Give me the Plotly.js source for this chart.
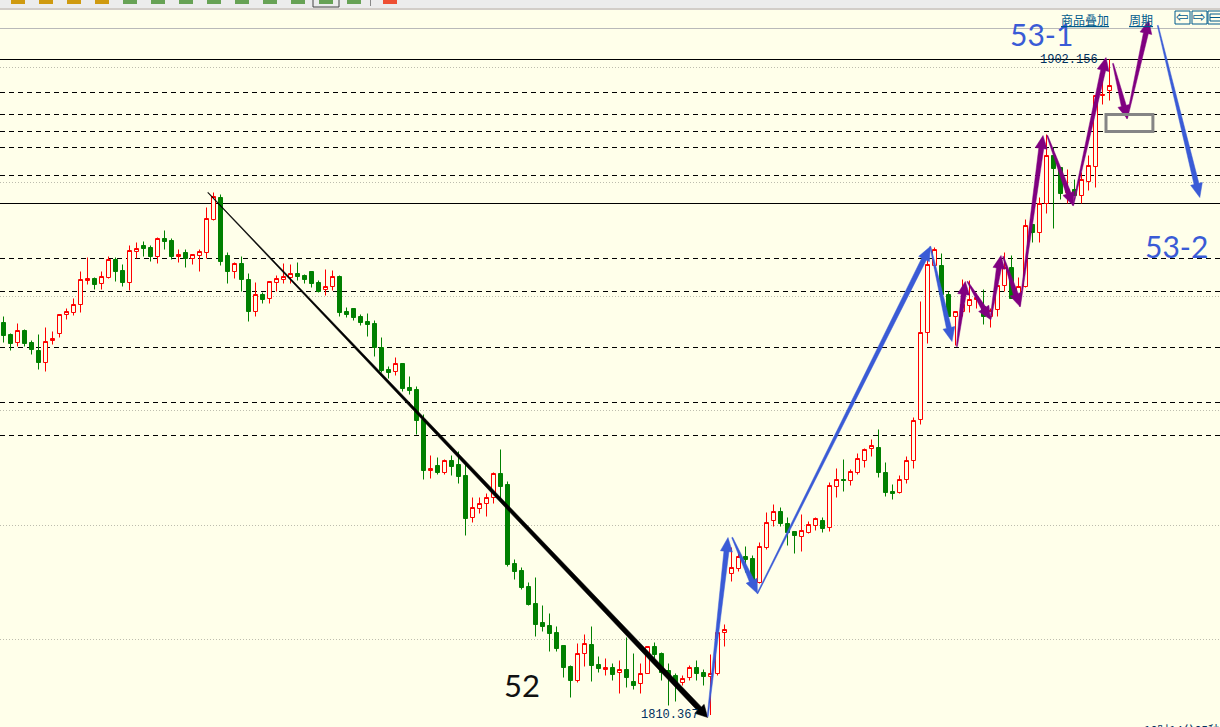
<!DOCTYPE html>
<html><head><meta charset="utf-8">
<script src="https://cdn.plot.ly/plotly-3.0.1.min.js"></script>
<style>html,body{margin:0;padding:0;background:#ffffea;overflow:hidden}</style>
</head><body><div id="chart" style="width:1220px;height:727px"></div>
<script>
const opens=[1865.32,1863.64,1862.52,1864.2,1862.52,1861.4,1859.72,1862.8,1863.78,1866.44,1866.72,1867.84,1871.2,1871.48,1870.78,1871.62,1874.14,1872.6,1870.92,1875.26,
1876.1,1875.82,1874.56,1877.08,1876.8,1874.56,1875.12,1874.28,1874.7,1875.12,1879.74,1882.82,1874.7,1872.46,1873.58,1871.34,1866.86,1869.24,1868.68,1870.92,
1871.34,1871.62,1872.18,1871.9,1872.46,1870.92,1869.94,1870.36,1871.76,1866.86,1867.28,1866.16,1865.46,1865.18,1861.82,1858.74,1858.46,1859.58,1856.22,1855.94,
1851.74,1844.6,1845.3,1844.32,1846.0,1845.44,1843.9,1838.02,1839.28,1839.98,1840.82,1844.18,1842.64,1831.58,1830.6,1828.36,1825.98,1823.32,1822.9,1821.92,
1820.1,1817.16,1815.2,1818.98,1820.24,1817.44,1816.74,1817.02,1816.32,1816.74,1815.06,1814.78,1816.18,1819.96,1818.98,1816.6,1815.9,1814.92,1815.62,1817.02,
1816.32,1815.76,1816.18,1821.92,1830.18,1830.88,1832.56,1832.28,1828.92,1833.82,1837.6,1838.86,1837.18,1836.06,1835.36,1835.92,1836.9,1837.6,1836.62,1842.36,
1843.34,1843.2,1844.32,1846.0,1847.68,1847.82,1844.32,1841.66,1841.52,1843.34,1846.0,1851.74,1863.92,1873.3,1873.3,1869.24,1866.16,1866.86,1867.7,1868.54,
1867.56,1866.16,1867.14,1870.5,1873.02,1868.68,1870.36,1879.04,1877.92,1881.98,1888.7,1887.02,1883.52,1883.94,1883.1,1885.06,1887.16,1897.1,1897.8];
const highs=[1866.16,1863.78,1865.18,1864.34,1862.8,1863.64,1864.62,1864.06,1866.44,1867.28,1868.68,1872.46,1874.42,1871.62,1872.46,1874.56,1874.42,1873.44,1876.1,1876.52,
1876.66,1876.1,1877.22,1878.2,1877.08,1875.54,1875.54,1874.84,1875.54,1881.42,1883.52,1883.24,1875.12,1873.72,1874.56,1872.18,1870.92,1869.52,1871.06,1871.9,
1873.58,1873.44,1873.72,1872.04,1872.46,1871.2,1872.74,1872.6,1871.9,1867.42,1867.28,1866.44,1866.58,1865.6,1863.22,1859.16,1860.42,1859.58,1857.76,1856.36,
1852.44,1846.7,1846.42,1846.14,1846.7,1847.26,1845.44,1840.82,1840.82,1841.38,1844.32,1847.54,1843.06,1832.14,1831.02,1828.92,1829.62,1825.7,1824.58,1822.76,
1820.1,1817.3,1820.38,1821.64,1822.76,1818.56,1818.28,1817.58,1818.0,1821.22,1818.98,1817.58,1819.96,1820.52,1819.12,1817.58,1816.18,1815.9,1817.3,1818.0,
1816.74,1818.84,1823.46,1823.04,1833.82,1832.98,1833.96,1832.7,1834.52,1838.72,1839.84,1839.42,1838.02,1836.06,1838.44,1837.46,1838.02,1838.02,1842.92,1844.88,
1846.14,1844.74,1846.98,1847.68,1848.94,1850.34,1845.72,1842.64,1843.9,1846.56,1852.02,1868.26,1874.28,1875.82,1874.98,1869.66,1866.86,1871.34,1871.2,1869.38,
1869.94,1867.28,1870.5,1875.12,1874.7,1871.62,1879.74,1879.04,1882.82,1891.64,1889.82,1887.02,1886.74,1885.34,1886.32,1888.7,1897.1,1901.58,1902.156];
const lows=[1862.52,1861.4,1861.96,1861.96,1860.84,1858.74,1858.46,1862.24,1863.22,1865.74,1866.3,1866.72,1870.64,1869.94,1869.94,1871.48,1871.06,1870.36,1869.8,1874.28,
1874.56,1873.86,1873.58,1875.54,1874.14,1873.72,1873.02,1873.44,1872.46,1874.28,1879.6,1873.3,1870.78,1871.48,1869.66,1865.46,1866.16,1867.98,1867.98,1869.66,
1870.78,1870.78,1871.2,1870.78,1870.22,1869.52,1869.1,1869.8,1866.16,1866.02,1865.6,1864.9,1863.36,1860.56,1858.32,1857.48,1857.9,1855.66,1855.24,1849.64,
1843.34,1843.48,1844.04,1844.04,1843.9,1842.78,1835.5,1837.32,1838.58,1838.16,1839.98,1840.68,1831.16,1829.34,1827.94,1825.7,1821.36,1822.06,1819.26,1819.26,
1815.62,1812.82,1814.92,1817.16,1815.06,1816.32,1815.9,1815.2,1813.38,1814.22,1813.94,1813.38,1816.18,1818.28,1815.2,1811.7,1812.26,1814.5,1815.2,1815.2,
1814.5,1810.367,1815.9,1819.96,1829.06,1830.46,1830.32,1828.92,1828.78,1833.54,1836.76,1836.76,1834.1,1832.98,1833.26,1835.78,1836.2,1835.92,1836.06,1840.82,
1841.66,1842.5,1844.04,1845.02,1846.56,1843.62,1840.96,1840.54,1841.38,1842.78,1844.88,1851.04,1862.38,1872.88,1869.24,1866.16,1862.1,1866.16,1866.72,1867.28,
1865.04,1864.62,1866.16,1869.66,1868.68,1867.98,1870.22,1876.52,1876.52,1880.58,1878.48,1882.54,1881.98,1883.1,1881.98,1883.8,1884.22,1895.84,1896.4];
const closes=[1863.5,1862.38,1864.2,1862.38,1861.54,1859.72,1862.66,1863.08,1866.44,1866.86,1867.84,1871.34,1871.48,1870.64,1871.76,1874.14,1872.46,1870.92,1875.4,1875.68,
1875.68,1874.56,1877.08,1876.66,1874.56,1874.84,1874.28,1874.84,1875.26,1879.88,1882.96,1873.86,1872.46,1873.58,1871.34,1866.86,1869.24,1868.54,1871.06,1871.48,
1871.76,1872.18,1871.76,1871.34,1870.78,1869.66,1870.36,1871.76,1866.72,1866.44,1866.02,1865.32,1865.04,1861.82,1858.6,1858.32,1859.58,1856.08,1855.8,1851.6,
1844.6,1844.88,1844.32,1846.0,1845.16,1843.76,1837.88,1839.42,1839.98,1840.82,1844.18,1842.36,1831.44,1830.46,1828.22,1825.84,1823.04,1822.76,1821.78,1819.68,
1817.02,1815.2,1818.98,1820.38,1817.3,1816.88,1817.02,1816.04,1816.74,1815.62,1814.5,1816.18,1819.96,1818.84,1816.32,1815.76,1814.92,1815.48,1817.02,1816.18,
1815.76,1816.18,1821.92,1822.34,1831.02,1832.56,1832.14,1828.92,1833.96,1837.32,1838.86,1837.18,1835.92,1835.5,1836.2,1837.04,1837.88,1836.48,1842.5,1843.34,
1843.2,1844.46,1846.28,1847.54,1848.1,1844.32,1841.52,1841.38,1843.34,1846.0,1851.6,1863.92,1873.44,1875.54,1869.24,1866.16,1866.86,1867.84,1868.54,1868.82,
1866.16,1867.0,1870.5,1873.02,1868.68,1870.36,1878.9,1877.92,1881.98,1888.7,1886.88,1883.38,1883.94,1883.1,1885.34,1887.3,1897.1,1897.24,1898.5];
const bars=opens.map((_,i)=>i);

const dashedLevels=[1897.52,1894.44,1892.06,1889.82,1885.9,1874.28,1869.66,1861.82,1854.12,1849.5];
const solidLevels=[1902.14,1881.98];
const dottedLevels=[1901.02,1884.92,1868.96,1853.0,1836.9,1820.94];
const greyLevels=[1906.48];

// hand-drawn arrows: [from bar, from price, to bar, to price]
const blackArrows=[[29.2,1883.52,100.6,1810.02]];
const blueArrows=[[100.6,1810.16,103.5,1835.22],[104.1,1835.22,107.7,1827.38],[107.7,1827.38,132.4,1875.96],[132.4,1875.96,135.5,1862.66],[164.9,1906.9,170.9,1882.82]];
const purpleArrows=[[136.2,1861.96,137.4,1871.06],[137.7,1871.06,141.0,1865.74],[141.0,1865.74,142.5,1874.7],[142.8,1874.56,145.2,1867.56],[145.2,1867.56,148.5,1891.5],[149.1,1891.5,152.8,1881.7],[152.8,1881.7,157.5,1902.42],[158.5,1901.58,160.5,1893.88],[160.5,1893.88,163.6,1907.6]];
const boxRange=[157.5,164.2,1892.06,1894.44];

const W=1220,H=727,BG='#ffffea';
const xr=[-0.5,173.7857], yr=[1808.69,1910.47];
const sx=W/(xr[1]-xr[0]), sy=H/(yr[1]-yr[0]);
const fx=px=>px/sx+xr[0], fy=py=>yr[1]-py/sy;
const pX=v=>(v-xr[0])*sx, pY=v=>(yr[1]-v)*sy;
const shapes=[];
function level(v,color,dash,w){shapes.push({type:'line',layer:'below',xref:'paper',x0:0,x1:1,yref:'y',y0:v,y1:v,line:{color:color,dash:dash,width:w}});}
dashedLevels.forEach(v=>level(v,'#000','5px,4px',1));
solidLevels.forEach(v=>level(v,'#000','solid',1));
dottedLevels.forEach(v=>level(v,'#bdbdae','1px,2px',1));
greyLevels.forEach(v=>level(v,'#b9b9b9','solid',1));
function arrow(a,color,w0,w1,hl,hw){
  const x0=pX(a[0]),y0=pY(a[1]),x1=pX(a[2]),y1=pY(a[3]);
  const L=Math.hypot(x1-x0,y1-y0),dx=(x1-x0)/L,dy=(y1-y0)/L,nx=-dy,ny=dx;
  const nkx=x1-dx*hl,nky=y1-dy*hl;
  const pts=[[x0+nx*w0/2,y0+ny*w0/2],[nkx+nx*w1/2,nky+ny*w1/2],[nkx+nx*hw,nky+ny*hw],[x1,y1],[nkx-nx*hw,nky-ny*hw],[nkx-nx*w1/2,nky-ny*w1/2],[x0-nx*w0/2,y0-ny*w0/2]];
  const d=pts.map((p,i)=>(i?'L':'M')+fx(p[0]).toFixed(4)+' '+fy(p[1]).toFixed(4)).join(' ')+' Z';
  shapes.push({type:'path',layer:'above',xref:'x',yref:'y',path:d,fillcolor:color,line:{color:color,width:0.5}});
}
blackArrows.forEach(a=>arrow(a,'#000',0.6,5.5,12,6.5));
blueArrows.forEach(a=>arrow(a,'#3a5bd6',1,5,14,6));
purpleArrows.forEach(a=>arrow(a,'#800080',1,5,13,6));
shapes.push({type:'rect',layer:'above',xref:'x',yref:'y',x0:boxRange[0],x1:boxRange[1],y0:boxRange[2],y1:boxRange[3],line:{color:'#858585',width:3},fillcolor:'rgba(0,0,0,0)'});

// window chrome along the top edge
const prect=(x0,y0,x1,y1,fill,line)=>shapes.push({type:'rect',layer:'above',xref:'paper',yref:'paper',x0:x0/W,x1:x1/W,y0:1-y1/H,y1:1-y0/H,fillcolor:fill,line:line||{width:0}});
prect(0,0,1220,8,'#ececec');
prect(0,8,1220,10,'#d2cdc8');
[11,39,67,95].forEach(x=>prect(x,0,x+14,4,'#cf9a10'));
[123,151,179,207,235,263,291,319,347].forEach(x=>prect(x,0,x+14,4,'#67a255'));
prect(313,-2,339,7,'rgba(0,0,0,0)',{color:'#444',width:1});
prect(370,0,371,6,'#888');
prect(383,0,397,4,'#ee4f33');
[1175,1192,1208].forEach(x=>prect(x,11,x+15,24,'rgba(0,0,0,0)',{color:'#005a8c',width:1}));
prect(1210,14,1222,21,'rgba(0,0,0,0)',{color:'#005a8c',width:1});
prect(1210,17,1220,18,'#005a8c');

const note=(text,x,y,size,color,family,xa,ya)=>({text:text,xref:'paper',yref:'paper',x:x/W,y:1-y/H,xanchor:xa||'left',yanchor:ya||'middle',showarrow:false,font:{size:size,color:color,family:family},borderpad:0,borderwidth:0});
const annotations=[
 note('53-1',1010,34,30,'#3a5bd6','Lato'),
 note('53-2',1145,246,30,'#3a5bd6','Lato'),
 note('52',504,685,31,'#111','Lato'),
 note('1902.156',1040,60,12,'#00305f','Liberation Mono'),
 note('1810.367',641,715,12,'#00305f','Liberation Mono'),
 note('<u>商品叠加</u>',1061,19,12,'#005a8c','Noto Sans CJK SC'),
 note('<u>周期</u>',1129,19,12,'#005a8c','Noto Sans CJK SC'),
 note('⇦',1182.5,17,15,'#005a8c','DejaVu Sans','center'),
 note('⇨',1199.5,17,15,'#005a8c','DejaVu Sans','center'),
 note('10时14分05秒',1144,721,12,'#00305f','Noto Sans CJK SC','left','top')
];

const trace={type:'candlestick',x:bars,open:opens,high:highs,low:lows,close:closes,whiskerwidth:0,
 increasing:{line:{color:'#ff0000',width:1},fillcolor:BG},
 decreasing:{line:{color:'#008000',width:1},fillcolor:'#008000'},hoverinfo:'skip',showlegend:false};
const layout={width:W,height:H,margin:{l:0,r:0,t:0,b:0,pad:0},paper_bgcolor:BG,plot_bgcolor:BG,showlegend:false,boxgap:0.4286,boxgroupgap:0,
 xaxis:{type:'linear',range:xr,visible:false,fixedrange:true,rangeslider:{visible:false},showgrid:false,zeroline:false},
 yaxis:{type:'linear',range:yr,visible:false,fixedrange:true,showgrid:false,zeroline:false},
 shapes:shapes,annotations:annotations};
Plotly.newPlot('chart',[trace],layout,{displayModeBar:false,staticPlot:true});
</script></body></html>
